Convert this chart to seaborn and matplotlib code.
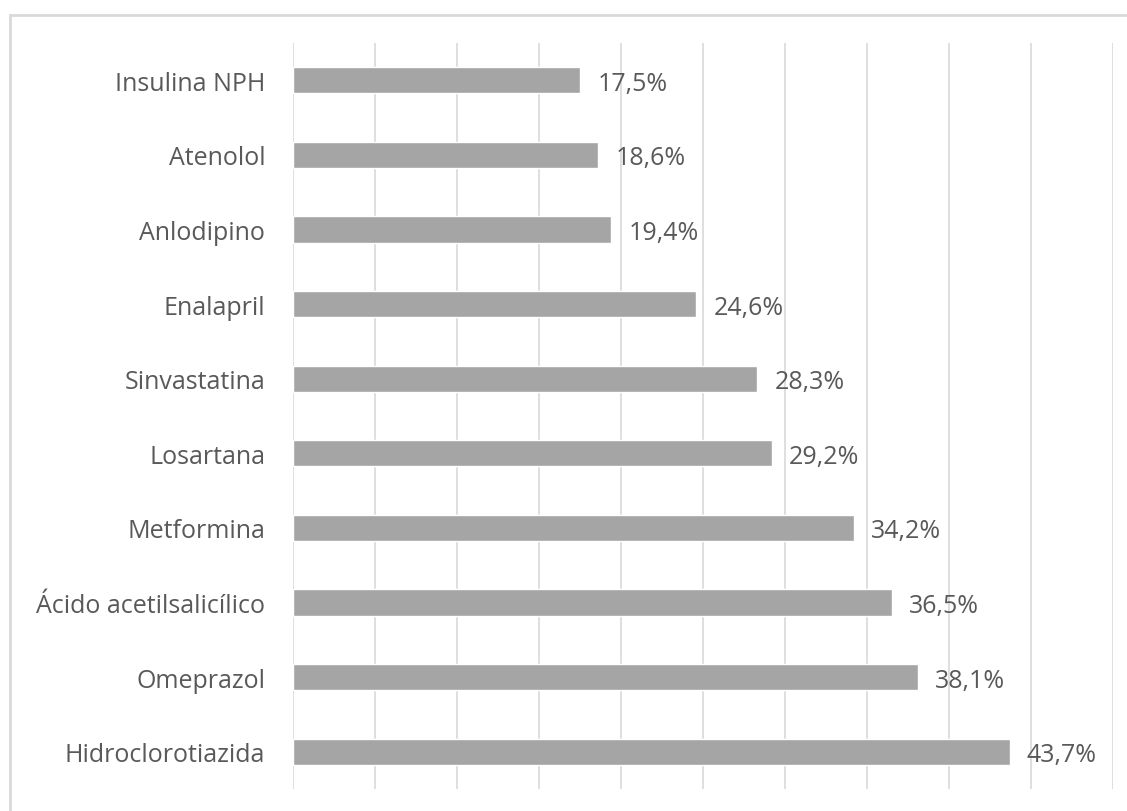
import matplotlib
matplotlib.use("Agg")
import matplotlib.pyplot as plt
import seaborn as sns
import pandas as pd

categories = ["Insulina NPH", "Atenolol", "Anlodipino", "Enalapril", "Sinvastatina",
              "Losartana", "Metformina", "Ácido acetilsalicílico", "Omeprazol", "Hidroclorotiazida"]
values = [17.5, 18.6, 19.4, 24.6, 28.3, 29.2, 34.2, 36.5, 38.1, 43.7]

sns.set_theme(style="white")
plt.rcParams['font.family'] = ['Open Sans', 'DejaVu Sans']

df = pd.DataFrame({"cat": categories, "val": values})

fig = plt.figure(figsize=(11.27, 8.12), dpi=100)
ax = fig.add_axes([293/1127, 1-790/812, (1113-293)/1127, (790-44)/812])

sns.barplot(data=df, y="cat", x="val", orient="h", color="#A5A5A5", width=0.35,
            saturation=1, ax=ax, zorder=3)

ax.set_xlim(0, 50)
ax.set_xticks(range(0, 51, 5))
ax.xaxis.grid(True, color="#D9D9D9", linewidth=1.2, zorder=0)
ax.set_axisbelow(True)
ax.tick_params(axis="x", labelbottom=False, length=0)
ax.tick_params(axis="y", length=0, labelsize=18, labelcolor="#595959", pad=20)
ax.set_xlabel("")
ax.set_ylabel("")
for s in ax.spines.values():
    s.set_visible(False)

for i, v in enumerate(values):
    ax.text(v + 1.05, i + 0.04, f"{v:.1f}%".replace(".", ","), va="center", ha="left",
            fontsize=18, color="#595959")

# outer chart border (left and top visible)
fig.patches.append(plt.Rectangle((10/1127, -0.1), 1.2, 1 - 16/812 + 0.1,
                                 transform=fig.transFigure, fill=False,
                                 edgecolor="#D9D9D9", linewidth=2))

fig.savefig("out.png", dpi=100)
